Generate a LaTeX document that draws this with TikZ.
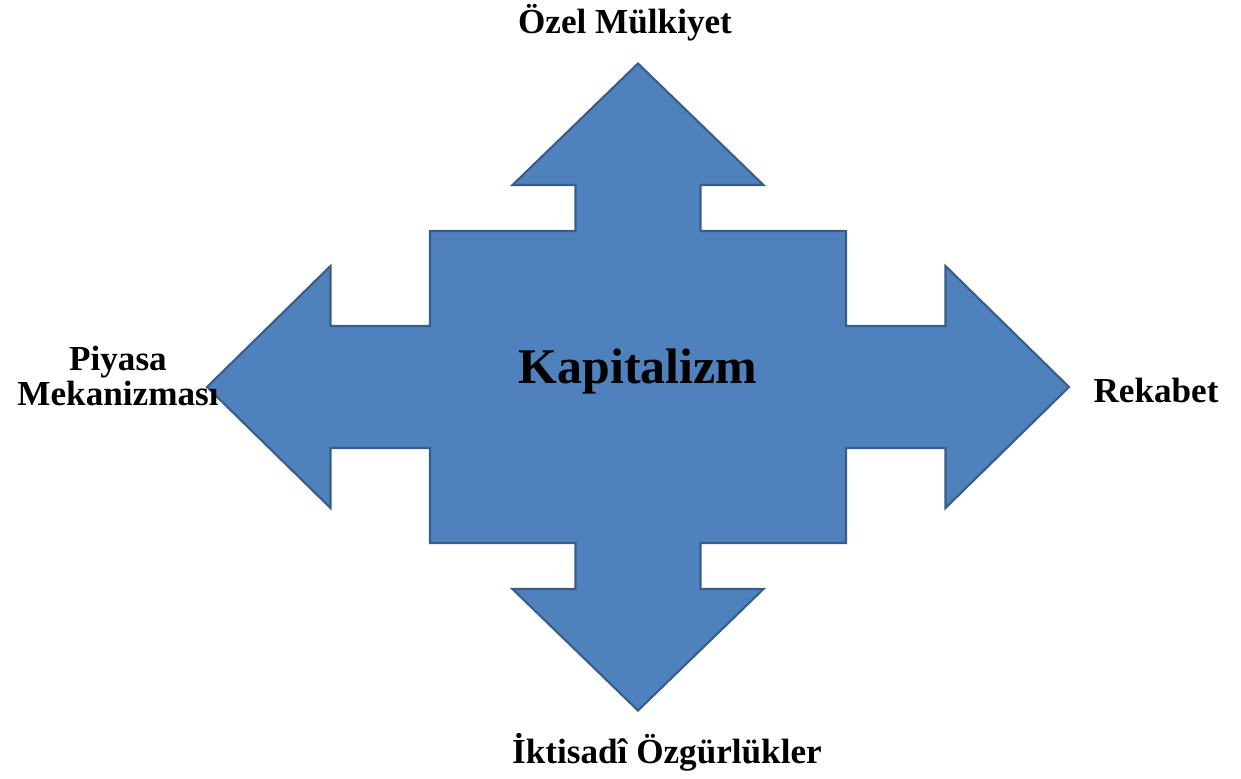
\documentclass[tikz,border=0pt]{standalone}
\usepackage{fontspec}
\setmainfont{Liberation Serif}
\usetikzlibrary{positioning}

\definecolor{armfill}{HTML}{4F81BD}
\definecolor{armline}{HTML}{385D8A}

\newcommand{\armlabel}[4]
{
	\node[anchor=base,align=center,inner sep=0pt,font=\fontsize{10}{8.8}\selectfont\bfseries,#1] at (#2) (#3) {#4}
}

\begin{document}
\begin{tikzpicture}
	
	\useasboundingbox (-6.38,-3.91) rectangle (6.03,3.87);
	
	%%% Four way arrow
	\draw[fill=armfill,draw=armline,line width=0.6pt,line join=miter]
		(0,3.235) -- (1.255,2.02) -- (0.625,2.02) -- (0.625,1.56)
		-- (2.08,1.56) -- (2.08,0.61) -- (3.075,0.61) -- (3.075,1.21)
		-- (4.31,0) -- (3.075,-1.21) -- (3.075,-0.61) -- (2.08,-0.61)
		-- (2.08,-1.56) -- (0.625,-1.56) -- (0.625,-2.02) -- (1.255,-2.02)
		-- (0,-3.235) -- (-1.255,-2.02) -- (-0.625,-2.02) -- (-0.625,-1.56)
		-- (-2.08,-1.56) -- (-2.08,-0.61) -- (-3.075,-0.61) -- (-3.075,-1.21)
		-- (-4.31,0) -- (-3.075,1.21) -- (-3.075,0.61) -- (-2.08,0.61)
		-- (-2.08,1.56) -- (-0.625,1.56) -- (-0.625,2.02) -- (-1.255,2.02)
		-- cycle;
	
	%%% Centre
	\node[anchor=base,inner sep=0pt,font=\fontsize{14.2}{16}\selectfont\bfseries] at (0,0.04) (kapitalizm) {Kapitalizm};
	
	%%% Arm labels
	\armlabel{}{-0.13,3.54}{mulkiyet}{Özel Mülkiyet};
	\armlabel{}{0.29,-3.76}{ozgurluk}{İktisadî Özgürlükler};
	\armlabel{}{5.18,-0.15}{rekabet}{Rekabet};
	\armlabel{anchor=center}{-5.20,0.11}{piyasa}{Piyasa\\Mekanizması};
	
\end{tikzpicture}
\end{document}
